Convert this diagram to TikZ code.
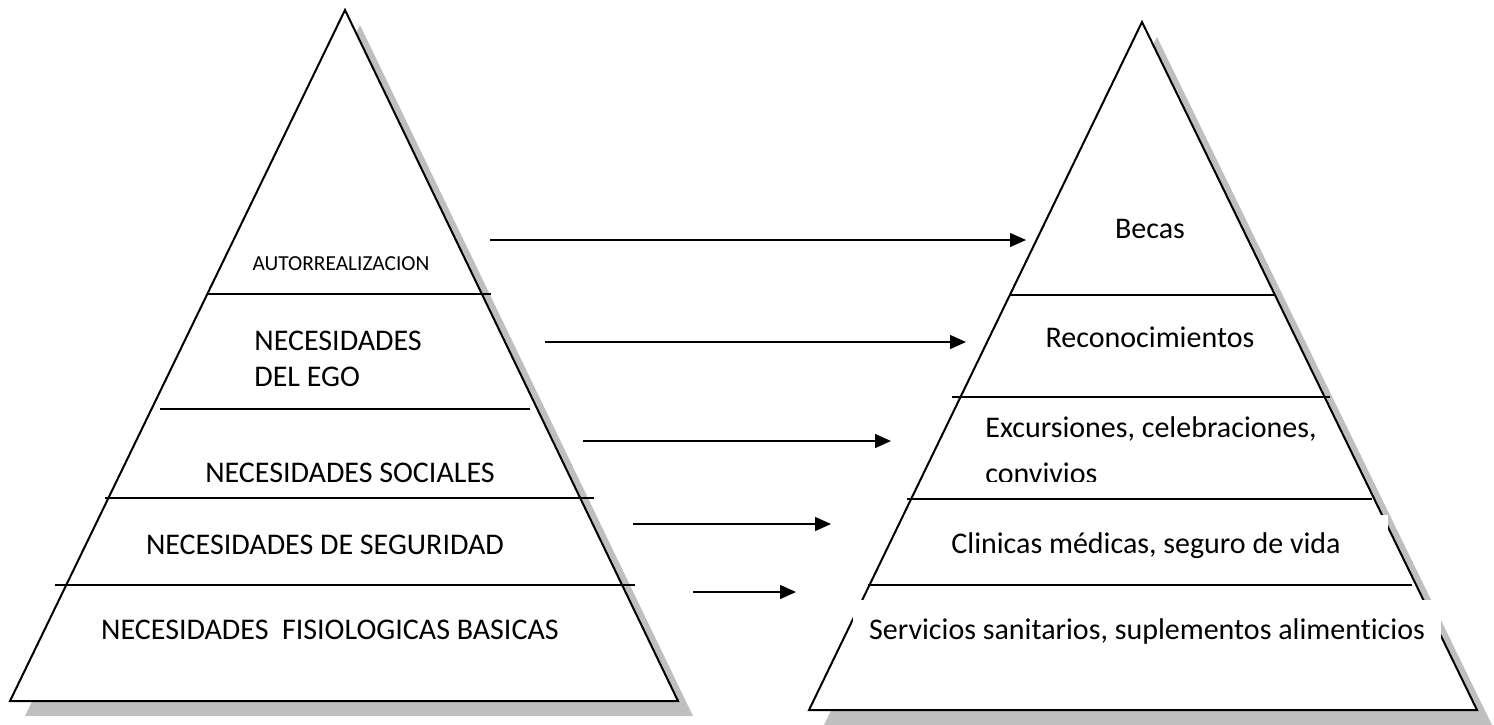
\documentclass[tikz,border=0pt]{standalone}
\usepackage{fontspec}
\setmainfont{Carlito}[Ligatures=NoCommon]
\usetikzlibrary{arrows.meta}

\tikzset{
  pyr/.style={draw=black, line width=1pt, fill=white, line join=miter},
  shade/.style={fill=gray!50, draw=none},
  level/.style={line width=0.75pt},
  link/.style={-{Triangle[length=8pt,width=7pt]}, line width=0.75pt},
  tag/.style={font=\fontsize{15}{18}\selectfont, inner sep=0pt},
  small tag/.style={font=\fontsize{10.7}{13}\selectfont, inner sep=0pt},
  box tag/.style={tag, fill=white},
}

\begin{document}
\begin{tikzpicture}[x=0.5pt, y=-0.5pt]
  \useasboundingbox (0,0) rectangle (1494,724);

  % corners of the two pyramids
  \coordinate (LT) at (345,10);
  \coordinate (LL) at (10,701);
  \coordinate (LR) at (678,701);
  \coordinate (RT) at (1142,22);
  \coordinate (RL) at (809,710);
  \coordinate (RR) at (1477,710);

  % shadows
  \fill[shade] ([shift={(15,15)}]LL) -- ([shift={(15,15)}]LR) -- ([shift={(15,15)}]LT) -- cycle;
  \fill[shade] ([shift={(15,15)}]RL) -- ([shift={(15,15)}]RR) -- ([shift={(15,15)}]RT) -- cycle;

  % pyramids
  \draw[pyr] (LL) -- (LR) -- (LT) -- cycle;
  \draw[pyr] (RL) -- (RR) -- (RT) -- cycle;

  % left pyramid: needs
  \node[small tag, anchor=base] (self) at (341,270) {AUTORREALIZACION};
  \node[tag, anchor=north west, align=left] (ego) at (254,331) {NECESIDADES\\DEL EGO};
  \node[tag, anchor=base] (social) at (350,482) {NECESIDADES SOCIALES};
  \node[tag, anchor=base] (safety) at (325,554) {NECESIDADES DE SEGURIDAD};
  \node[tag, anchor=base] (basic) at (330,639) {NECESIDADES\ \ FISIOLOGICAS BASICAS};

  % right pyramid: benefits
  \node[tag, anchor=base] (grants) at (1150,238) {Becas};
  \node[tag, anchor=base] (awards) at (1150,347) {Reconocimientos};
  \begin{scope}
    \clip (960,400) rectangle (1345,481);
    \node[tag, anchor=north west, align=left,
      font=\fontsize{15}{23}\selectfont] (trips) at (985,416)
      {Excursiones, celebraciones,\\convivios};
  \end{scope}
  \node[box tag, minimum width=242pt, minimum height=31pt] (clinic) at (1146,546)
    {Clinicas médicas, seguro de vida};
  \node[box tag, minimum width=294pt, minimum height=31pt] (health) at (1147,631)
    {Servicios sanitarios, suplementos alimenticios};

  % level lines
  \draw[level] (207,294) -- (491,294);
  \draw[level] (160,409) -- (530,409);
  \draw[level] (105,498) -- (594,498);
  \draw[level] (55,585) -- (635,585);
  \draw[level] (1010,295) -- (1275,295);
  \draw[level] (952,397) -- (1330,397);
  \draw[level] (907,499) -- (1372,499);
  \draw[level] (868,585) -- (1412,585);

  % arrows from needs to benefits
  \coordinate (a1) at (490,240);  \coordinate (b1) at (1026,240);
  \coordinate (a2) at (545,342);  \coordinate (b2) at (966,342);
  \coordinate (a3) at (583,441);  \coordinate (b3) at (891,441);
  \coordinate (a4) at (633,524);  \coordinate (b4) at (831,524);
  \coordinate (a5) at (693,592);  \coordinate (b5) at (796,592);
  \foreach \i in {1,...,5}
    \draw[link] (a\i) -- (b\i);
\end{tikzpicture}
\end{document}
